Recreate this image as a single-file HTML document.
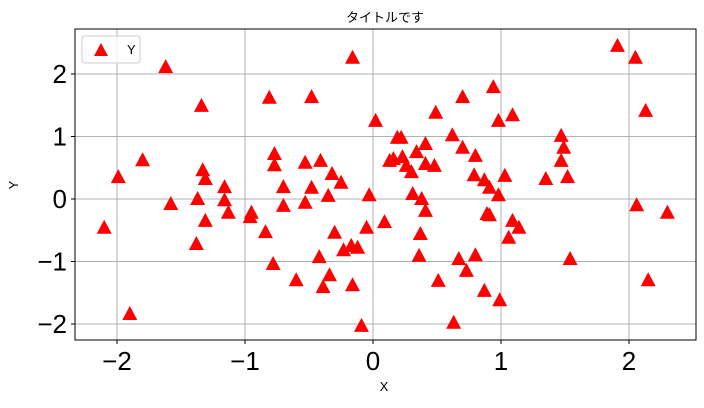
<!DOCTYPE html>
<html><head><meta charset="utf-8"><style>
body{margin:0;background:#fff;}
svg text{font-family:"Liberation Sans","Noto Sans CJK JP",sans-serif;}
</style></head><body>
<svg id="chart" width="704" height="403" viewBox="0 0 704 403" xmlns="http://www.w3.org/2000/svg">
<rect width="704" height="403" fill="#fff"/>
<text x="385" y="22" font-size="13" text-anchor="middle">タイトルです</text>
<g id="grid"></g>
<g id="ticks"></g>
<g id="marks"></g>
<rect x="75" y="29" width="621" height="311" fill="none" stroke="#000" stroke-width="1"/>
<text x="384" y="391" font-size="13" text-anchor="middle">X</text>
<text x="18" y="185" font-size="13" text-anchor="middle" transform="rotate(-90 18 185)">Y</text>
<g>
<rect x="82" y="36" width="58" height="27" rx="3" fill="#fff" fill-opacity="0.8" stroke="#ccc"/>
<polygon points="101,43 108,56 94,56" fill="red"/>
<text x="127" y="54" font-size="13">Y</text>
</g>
</svg>
<script>
const xs=[-2.10,-1.99,-1.90,-1.80,-1.62,-1.58,-1.38,-1.37,-1.34,-1.33,-1.31,-1.31,-1.16,-1.16,-1.13,-0.95,-0.96,-0.84,-0.81,-0.78,-0.77,-0.77,-0.70,-0.70,-0.60,-0.53,-0.53,-0.48,-0.48,-0.41,-0.42,-0.39,-0.34,-0.35,-0.32,-0.30,-0.25,-0.23,-0.17,-0.16,-0.16,-0.12,-0.09,-0.05,-0.03,0.02,0.09,0.13,0.16,0.19,0.22,0.23,0.26,0.30,0.31,0.34,0.37,0.36,0.38,0.41,0.41,0.41,0.48,0.49,0.51,0.62,0.63,0.67,0.70,0.70,0.73,0.80,0.79,0.80,0.87,0.87,0.89,0.91,0.91,0.94,0.98,0.98,0.99,1.03,1.06,1.09,1.09,1.14,1.35,1.47,1.49,1.47,1.52,1.54,1.91,2.05,2.06,2.13,2.15,2.30];
const ys=[-0.46,0.35,-1.84,0.62,2.11,-0.08,-0.72,0.0,1.49,0.46,0.32,-0.35,0.19,-0.02,-0.22,-0.22,-0.29,-0.53,1.62,-1.04,0.72,0.54,0.19,-0.11,-1.30,0.58,-0.06,0.18,1.63,0.61,-0.93,-1.41,-1.22,0.05,0.40,-0.54,0.26,-0.82,-0.75,2.26,-1.38,-0.78,-2.03,-0.46,0.06,1.25,-0.37,0.61,0.64,0.98,0.98,0.67,0.53,0.43,0.08,0.75,-0.56,-0.91,0.0,0.56,-0.19,0.88,0.53,1.38,-1.31,1.02,-1.98,-0.96,0.82,1.63,-1.15,0.69,0.38,-0.90,0.30,-1.47,-0.24,0.18,-0.26,1.79,1.25,0.06,-1.62,0.37,-0.62,1.34,-0.35,-0.46,0.32,1.01,0.82,0.61,0.35,-0.96,2.45,2.26,-0.10,1.41,-1.30,-0.22];
const xTicks=[-2,-1,0,1,2];
const yTicks=[-2,-1,0,1,2];
const xTickLabels=["\u22122","\u22121","0","1","2"];
const yTickLabels=["\u22122","\u22121","0","1","2"];
const NS="http://www.w3.org/2000/svg";
const X=v=>373+v*128;
const Y=v=>199-v*62.5;
const grid=document.getElementById('grid'),ticks=document.getElementById('ticks'),marks=document.getElementById('marks');
function mk(t,a,p){const e=document.createElementNS(NS,t);for(const k in a)e.setAttribute(k,a[k]);p.appendChild(e);return e;}
xTicks.forEach((v,i)=>{
 const g=mk('line',{x1:X(v),x2:X(v),y1:29,y2:340,stroke:'#b0b0b0','stroke-width':1},grid);
 
 
 mk('line',{x1:X(v),x2:X(v),y1:340,y2:344,stroke:'#000'},ticks);
 const t=mk('text',{x:X(v),y:370,'font-size':26,'text-anchor':'middle'},ticks);
 t.textContent=xTickLabels[i];
 
 
});
yTicks.forEach((v,i)=>{
 const g=mk('line',{x1:75,x2:696,y1:Y(v),y2:Y(v),stroke:'#b0b0b0','stroke-width':1},grid);
 
 
 mk('line',{x1:71,x2:75,y1:Y(v),y2:Y(v),stroke:'#000'},ticks);
 const t=mk('text',{x:67,y:Y(v)+9,'font-size':26,'text-anchor':'end'},ticks);
 t.textContent=yTickLabels[i];
 
 
});
xs.forEach((v,i)=>{
 const cx=X(v),cy=Y(ys[i]);
 const p=mk('polygon',{points:`${cx},${cy-8} ${cx+7.5},${cy+6} ${cx-7.5},${cy+6}`,fill:'red'},marks);
 
 
});
</script>
</body></html>
